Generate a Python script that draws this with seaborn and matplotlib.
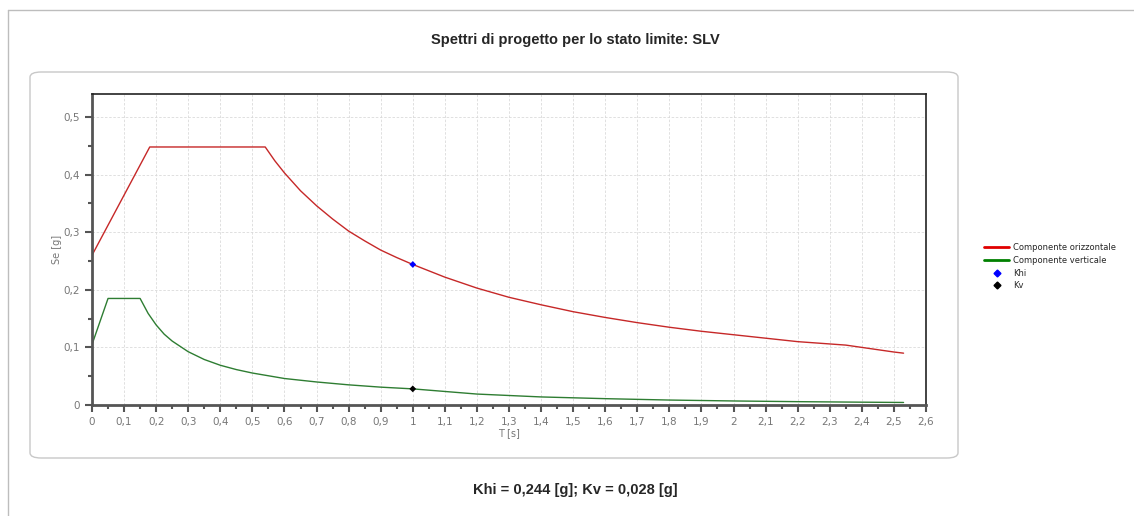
import matplotlib
matplotlib.use("Agg")
import matplotlib.pyplot as plt
import pandas as pd
import seaborn as sns
from matplotlib.lines import Line2D
from matplotlib.patches import FancyBboxPatch
from matplotlib.ticker import FuncFormatter, MultipleLocator

# ==========================
# Dati
# ==========================
T_orizz = [0, 0.18, 0.54, 0.57, 0.6, 0.65, 0.7, 0.75, 0.8, 0.85, 0.9, 0.95,
           1.0, 1.1, 1.2, 1.3, 1.4, 1.5, 1.6, 1.7, 1.8, 1.9, 2.0, 2.1, 2.2,
           2.3, 2.35, 2.4, 2.5, 2.53]
Se_orizz = [0.26, 0.448, 0.448, 0.424, 0.403, 0.372, 0.346, 0.323, 0.302,
            0.285, 0.269, 0.256, 0.244, 0.222, 0.203, 0.187, 0.174, 0.162,
            0.152, 0.143, 0.135, 0.128, 0.122, 0.116, 0.110, 0.106, 0.104,
            0.100, 0.092, 0.090]

T_vert = [0, 0.05, 0.15, 0.175, 0.2, 0.225, 0.25, 0.3, 0.35, 0.4, 0.45, 0.5,
          0.6, 0.7, 0.8, 0.9, 1.0, 1.2, 1.4, 1.6, 1.8, 2.0, 2.2, 2.4, 2.53]
Se_vert = [0.105, 0.185, 0.185, 0.159, 0.139, 0.123, 0.111, 0.0925, 0.079,
           0.069, 0.0615, 0.0555, 0.046, 0.040, 0.035, 0.031, 0.028, 0.019,
           0.014, 0.011, 0.0086, 0.007, 0.0058, 0.0049, 0.0044]

punti_nomi = ["Khi", "Kv"]
punti_T = [1.0, 1.0]
punti_Se = [0.244, 0.028]

titolo = "Spettri di progetto per lo stato limite: SLV"
nota = "Khi = 0,244 [g]; Kv = 0,028 [g]"

df_orizz = pd.DataFrame({"T": T_orizz, "Se": Se_orizz})
df_vert = pd.DataFrame({"T": T_vert, "Se": Se_vert})
df_punti = pd.DataFrame({"nome": punti_nomi, "T": punti_T, "Se": punti_Se})

# ==========================
# Figura
# ==========================
sns.set_style("white")
plt.rcParams["font.family"] = ["DejaVu Sans"]

fig = plt.figure(figsize=(11.34, 5.16), dpi=100)
ax = fig.add_axes([92 / 1134, 1 - 405 / 516, 834 / 1134, 311 / 516])

# cornice esterna e riquadro arrotondato
fig.add_artist(Line2D([8 / 1134, 1], [1 - 10 / 516, 1 - 10 / 516], color="#bdbdbd", lw=1))
fig.add_artist(Line2D([8 / 1134, 8 / 1134], [0, 1 - 10 / 516], color="#bdbdbd", lw=1))
box = FancyBboxPatch((30 / 1134, 1 - 458 / 516), 928 / 1134, 386 / 516,
                     boxstyle="round,pad=0,rounding_size=0.01",
                     transform=fig.transFigure, fc="none", ec="#c8c8c8", lw=1)
fig.add_artist(box)

sns.lineplot(data=df_orizz, x="T", y="Se", ax=ax, color="#c62828", lw=1,
             label="Componente orizzontale")
sns.lineplot(data=df_vert, x="T", y="Se", ax=ax, color="#2e7d32", lw=1,
             label="Componente verticale")
sns.scatterplot(data=df_punti, x="T", y="Se", hue="nome", ax=ax,
                palette=["#0000ff", "#000000"], marker="D", s=12,
                edgecolor="none", zorder=5)

ax.set_xlim(0, 2.6)
ax.set_ylim(0, 0.54)
ax.xaxis.set_major_locator(MultipleLocator(0.1))
ax.xaxis.set_minor_locator(MultipleLocator(0.05))
ax.yaxis.set_major_locator(MultipleLocator(0.1))
ax.yaxis.set_minor_locator(MultipleLocator(0.05))


def virgola(v, pos):
    s = f"{v:.1f}".rstrip("0").rstrip(".")
    return s.replace(".", ",")


ax.xaxis.set_major_formatter(FuncFormatter(virgola))
ax.yaxis.set_major_formatter(FuncFormatter(virgola))
ax.tick_params(which="both", direction="out", color="#555555", labelcolor="#777777",
               labelsize=7.5, bottom=True, left=True)
ax.tick_params(which="major", length=5, width=1.5)
ax.tick_params(which="minor", length=3, width=1.5)
ax.grid(True, which="major", ls=(0, (3, 2)), color="#dadada", lw=0.6)

for lato in ["left", "bottom"]:
    ax.spines[lato].set_color("#555555")
    ax.spines[lato].set_linewidth(2)
for lato in ["top", "right"]:
    ax.spines[lato].set_color("#222222")
    ax.spines[lato].set_linewidth(1.2)

ax.set_xlabel("T [s]", fontsize=7, color="#777777", labelpad=1)
ax.set_ylabel("Se [g]", fontsize=7, color="#777777")
ax.yaxis.set_label_coords(-30 / 834, 0.5)

maniglie = [Line2D([], [], color="#e00000", lw=2),
            Line2D([], [], color="#008000", lw=2),
            Line2D([], [], color="#0000ff", marker="D", ls="none", ms=3.5),
            Line2D([], [], color="#000000", marker="D", ls="none", ms=3.5)]
etichette = ["Componente orizzontale", "Componente verticale", "Khi", "Kv"]
ax.legend(maniglie, etichette, loc="upper left", bbox_to_anchor=(980 / 1134, 1 - 239 / 516),
          bbox_transform=fig.transFigure, frameon=False, fontsize=6,
          handlelength=3.0, handletextpad=0.5, labelspacing=0.45, borderpad=0)

fig.text(575 / 1134, 1 - 40 / 516, titolo, ha="center", va="center",
         fontsize=10.5, fontweight="bold", family="Liberation Sans")
fig.text(575 / 1134, 1 - 490 / 516, nota, ha="center", va="center",
         fontsize=10.5, fontweight="bold", family="Liberation Sans")

fig.savefig("out.png", dpi=100)
